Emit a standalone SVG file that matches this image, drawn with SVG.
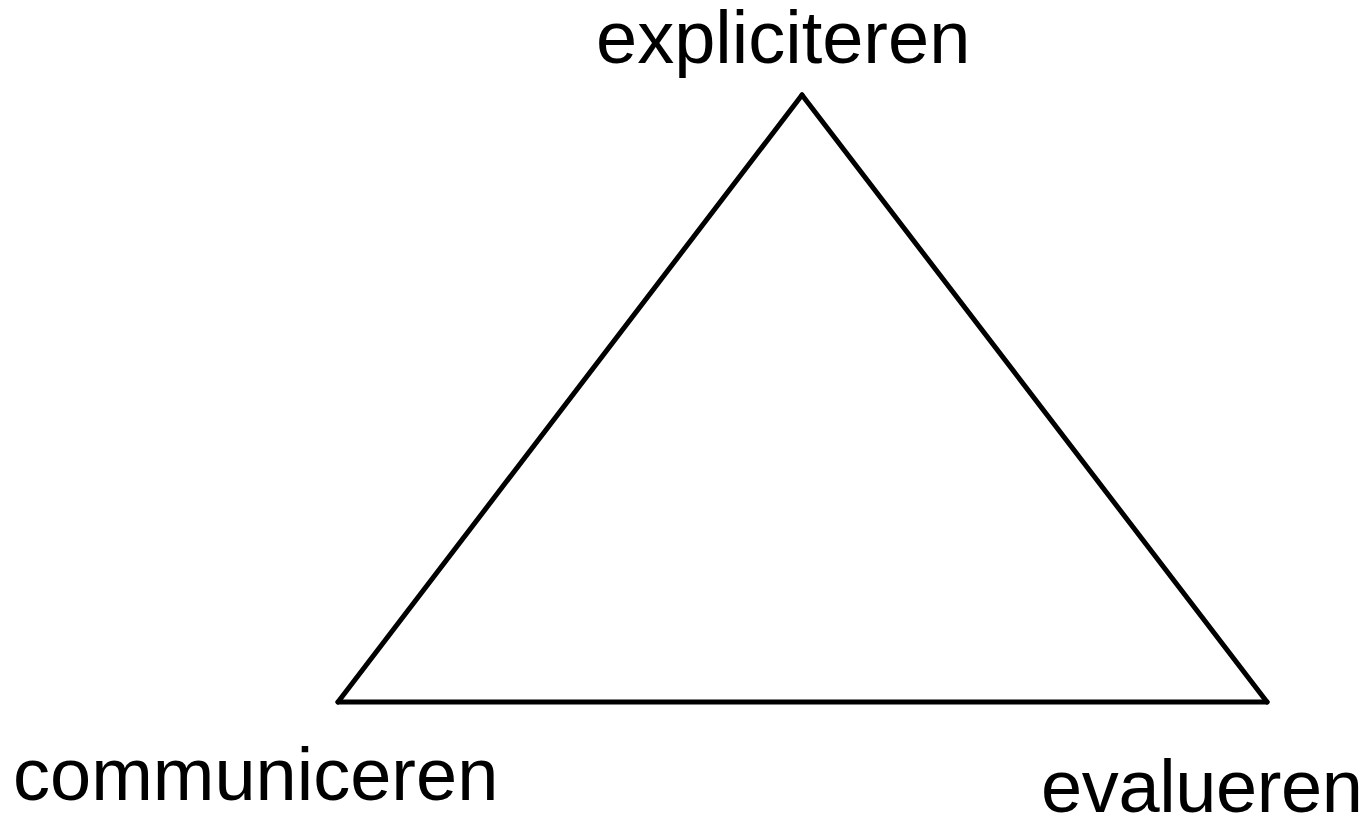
<svg xmlns="http://www.w3.org/2000/svg" width="1369" height="821" viewBox="0 0 1369 821">
<style>
.lbl{font-family:"Liberation Sans",Arial,sans-serif;font-size:74px;fill:#000}
.edge{stroke:#000;stroke-width:5;fill:none;stroke-linecap:round;stroke-linejoin:round}
</style>
<rect width="1369" height="821" fill="#fff"/>
<g id="connectors">
<path class="edge" d="M802,95 L338,702"/>
<path class="edge" d="M802,95 L1267,702"/>
<path class="edge" d="M338,702 L1267,702"/>
</g>
<g id="node-expliciteren"><text class="lbl" x="596" y="63">expliciteren</text></g>
<g id="node-communiceren"><text class="lbl" x="13" y="800">communiceren</text></g>
<g id="node-evalueren"><text class="lbl" x="1041" y="812" textLength="322">evalueren</text></g>
</svg>
